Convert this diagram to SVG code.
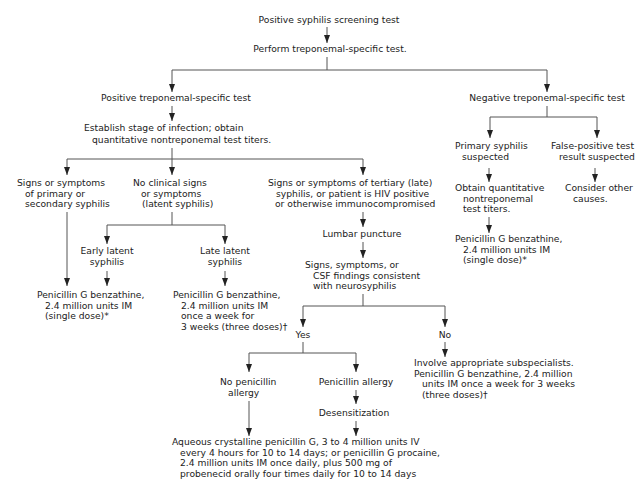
<svg xmlns="http://www.w3.org/2000/svg" width="638" height="479" viewBox="0 0 638 479">
<defs>
<marker id="ah" viewBox="0 0 8 6" refX="8" refY="3" markerWidth="8" markerHeight="6" markerUnits="userSpaceOnUse" orient="auto">
<path d="M0,0 L8,3 L0,6 Z" fill="#222"/>
</marker>
<style>
text{font-family:"DejaVu Sans","Liberation Sans",sans-serif;font-size:9.2px;fill:#222}
.m{text-anchor:middle}
.c{stroke:#555;stroke-width:1;fill:none}
.a{stroke:#555;stroke-width:1;fill:none;marker-end:url(#ah)}
</style>
</defs>
<rect width="638" height="479" fill="#fff"/>
<g id="connectors">
<line class="a" x1="327" y1="27" x2="327" y2="43"/>
<polyline class="c" points="327,57 327,70"/>
<polyline class="a" points="327,70 172,70 172,92"/>
<polyline class="a" points="327,70 547,70 547,92"/>
<line class="a" x1="172" y1="106" x2="172" y2="121"/>
<polyline class="c" points="172,148 172,159"/>
<polyline class="a" points="172,159 67,159 67,175"/>
<line class="a" x1="172" y1="159" x2="172" y2="175"/>
<polyline class="a" points="172,159 363,159 363,175"/>
<line class="a" x1="67" y1="212" x2="67" y2="286"/>
<polyline class="c" points="172,212 172,225"/>
<polyline class="a" points="172,225 107,225 107,244"/>
<polyline class="a" points="172,225 225,225 225,244"/>
<line class="a" x1="107" y1="271" x2="107" y2="286"/>
<line class="a" x1="225" y1="271" x2="225" y2="286"/>
<line class="a" x1="363" y1="212" x2="363" y2="227"/>
<line class="a" x1="363" y1="242" x2="363" y2="258"/>
<polyline class="c" points="363,294 363,306"/>
<polyline class="a" points="363,306 303,306 303,327"/>
<polyline class="a" points="363,306 445,306 445,327"/>
<polyline class="c" points="303,342 303,353"/>
<polyline class="a" points="303,353 249,353 249,372"/>
<polyline class="a" points="303,353 356,353 356,372"/>
<line class="a" x1="356" y1="390" x2="356" y2="404"/>
<line class="a" x1="356" y1="421" x2="356" y2="436"/>
<line class="a" x1="249" y1="401" x2="249" y2="436"/>
<line class="a" x1="445" y1="342" x2="445" y2="357"/>
<polyline class="c" points="547,106 547,117"/>
<polyline class="a" points="547,117 490,117 490,138"/>
<polyline class="a" points="547,117 597,117 597,138"/>
<line class="a" x1="489" y1="168" x2="489" y2="182"/>
<line class="a" x1="489" y1="217" x2="489" y2="233"/>
<line class="a" x1="595" y1="168" x2="595" y2="182"/>
</g>
<g id="n-screen"><text class="m" x="329" y="23">Positive syphilis screening test</text></g>
<g id="n-perform"><text class="m" x="330" y="52">Perform treponemal-specific test.</text></g>
<g id="n-positive"><text class="m" x="176" y="101">Positive treponemal-specific test</text></g>
<g id="n-negative"><text class="m" x="547" y="101">Negative treponemal-specific test</text></g>
<g id="n-establish"><text x="84" y="131">Establish stage of infection; obtain</text><text x="92" y="143">quantitative nontreponemal test titers.</text></g>
<g id="n-primsec"><text x="17" y="186">Signs or symptoms</text><text x="25" y="196.5">of primary or</text><text x="25" y="207">secondary syphilis</text></g>
<g id="n-noclin"><text x="133" y="186">No clinical signs</text><text x="141" y="196.5">or symptoms</text><text x="142" y="207">(latent syphilis)</text></g>
<g id="n-tertiary"><text x="268" y="186">Signs or symptoms of tertiary (late)</text><text x="276" y="196.5">syphilis, or patient is HIV positive</text><text x="275" y="207">or otherwise immunocompromised</text></g>
<g id="n-early"><text class="m" x="107" y="254">Early latent</text><text class="m" x="107" y="265">syphilis</text></g>
<g id="n-late"><text class="m" x="225" y="254">Late latent</text><text class="m" x="225" y="265">syphilis</text></g>
<g id="n-pen1"><text x="37" y="298">Penicillin G benzathine,</text><text x="45" y="308.5">2.4 million units IM</text><text x="45" y="319">(single dose)*</text></g>
<g id="n-pen3"><text x="173" y="298">Penicillin G benzathine,</text><text x="181" y="308.5">2.4 million units IM</text><text x="181" y="319">once a week for</text><text x="181" y="329.5">3 weeks (three doses)†</text></g>
<g id="n-lumbar"><text class="m" x="362" y="237">Lumbar puncture</text></g>
<g id="n-csf"><text x="305" y="268">Signs, symptoms, or</text><text x="313" y="278.5">CSF findings consistent</text><text x="313" y="289">with neurosyphilis</text></g>
<g id="n-yes"><text class="m" x="303" y="338">Yes</text></g>
<g id="n-no"><text class="m" x="445" y="338">No</text></g>
<g id="n-nopen"><text x="220" y="385">No penicillin</text><text x="228" y="396">allergy</text></g>
<g id="n-penallergy"><text class="m" x="356" y="385">Penicillin allergy</text></g>
<g id="n-desens"><text class="m" x="354" y="416">Desensitization</text></g>
<g id="n-aqueous"><text x="172" y="445">Aqueous crystalline penicillin G, 3 to 4 million units IV</text><text x="180" y="455.5">every 4 hours for 10 to 14 days; or penicillin G procaine,</text><text x="180" y="466">2.4 million units IM once daily, plus 500 mg of</text><text x="180" y="476.5">probenecid orally four times daily for 10 to 14 days</text></g>
<g id="n-involve"><text x="414" y="366">Involve appropriate subspecialists.</text><text x="414" y="376.5">Penicillin G benzathine, 2.4 million</text><text x="422" y="387">units IM once a week for 3 weeks</text><text x="422" y="397.5">(three doses)†</text></g>
<g id="n-primsusp"><text x="455" y="149">Primary syphilis</text><text x="462" y="160">suspected</text></g>
<g id="n-falsepos"><text x="551" y="149">False-positive test</text><text x="559" y="160">result suspected</text></g>
<g id="n-obtain"><text x="455" y="191">Obtain quantitative</text><text x="463" y="201.5">nontreponemal</text><text x="463" y="212">test titers.</text></g>
<g id="n-pen2"><text x="455" y="242">Penicillin G benzathine,</text><text x="463" y="252.5">2.4 million units IM</text><text x="463" y="263">(single dose)*</text></g>
<g id="n-consider"><text x="565" y="191">Consider other</text><text x="573" y="201.5">causes.</text></g>
</svg>
